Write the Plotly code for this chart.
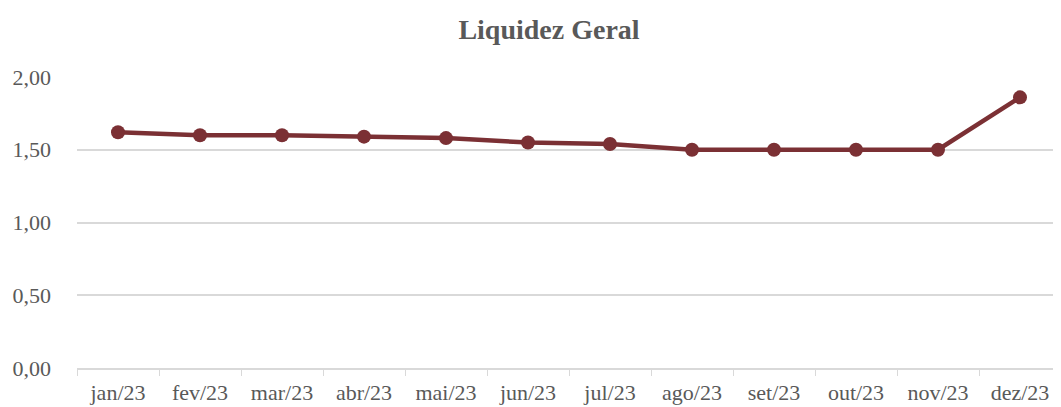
import plotly.graph_objects as go

categories = ["jan/23", "fev/23", "mar/23", "abr/23", "mai/23", "jun/23",
              "jul/23", "ago/23", "set/23", "out/23", "nov/23", "dez/23"]
values = [1.62, 1.60, 1.60, 1.59, 1.58, 1.55, 1.54, 1.50, 1.50, 1.50, 1.50, 1.86]
y_ticks = [0, 0.5, 1.0, 1.5, 2.0]

font_family = "Liberation Serif, Times New Roman, serif"
text_color = "#595959"
grid_color = "#d9d9d9"
line_color = "#7b3034"

# page body has an 8px margin; figure sized to fill the rest of the window
W, H = 1053, 399

fig = go.Figure()
fig.add_trace(go.Scatter(
    x=categories, y=values, mode="lines+markers",
    line=dict(color=line_color, width=4.5),
    marker=dict(color=line_color, size=14),
    showlegend=False, cliponaxis=False,
))

fig.update_layout(
    width=W, height=H,
    margin=dict(l=69, r=0, t=69, b=39, autoexpand=False),
    paper_bgcolor="white", plot_bgcolor="white",
    separators=",.",
    title=dict(text="<b>Liquidez Geral</b>", x=541/W, xanchor="center",
               y=1 - 21/H, yanchor="middle",
               font=dict(family=font_family, size=28, color=text_color)),
    font=dict(family=font_family, size=22, color=text_color),
)
fig.update_xaxes(
    type="category", showgrid=False, showline=True, linecolor=grid_color, linewidth=1.5,
    ticks="outside", tickson="boundaries", ticklen=6, tickcolor=grid_color,
    ticklabelstandoff=4,
    tickfont=dict(family=font_family, size=22, color=text_color),
    range=[-0.5, 11.5], automargin=False,
)
fig.update_yaxes(
    range=[0, 2.0], tickvals=y_ticks, tickformat=".2f",
    showgrid=True, gridcolor=grid_color, gridwidth=1.5, zeroline=False,
    ticklabelstandoff=25, automargin=False,
    tickfont=dict(family=font_family, size=22, color=text_color),
)

fig.write_html("out.html")
